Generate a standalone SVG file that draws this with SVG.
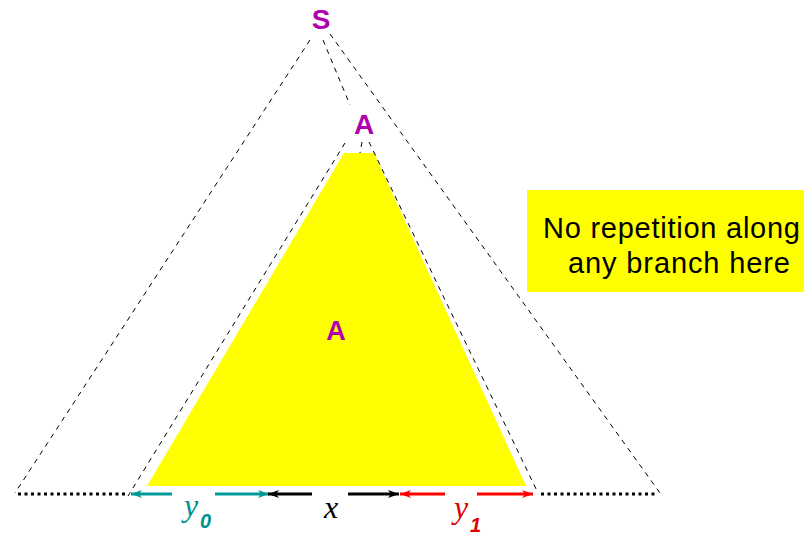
<svg xmlns="http://www.w3.org/2000/svg" width="804" height="535" viewBox="0 0 804 535">
<style>
.dash{stroke:#000;stroke-width:1;stroke-dasharray:5,5;fill:none}
.dot{stroke:#000;stroke-width:3;stroke-dasharray:3,3.5;fill:none}
.lbl{font-family:"Liberation Sans",Arial,sans-serif;font-weight:bold;fill:#b000b0;text-anchor:middle}
.note{font-family:"Liberation Sans",Arial,sans-serif;font-size:29px;fill:#000}
.var{font-family:"Liberation Serif","Times New Roman",serif;font-style:italic;font-size:32px}
.sub{font-family:"Liberation Sans",Arial,sans-serif;font-style:italic;font-weight:bold;font-size:20px}
.arr{stroke-width:3;fill:none}
</style>
<defs>
<marker id="mt" markerUnits="userSpaceOnUse" markerWidth="12" markerHeight="8" refX="11" refY="4" orient="auto"><path d="M0,0 L11,4 L0,8 L3,4 z" fill="#009999"/></marker>
<marker id="mk" markerUnits="userSpaceOnUse" markerWidth="12" markerHeight="8" refX="11" refY="4" orient="auto"><path d="M0,0 L11,4 L0,8 L3,4 z" fill="#000"/></marker>
<marker id="mr" markerUnits="userSpaceOnUse" markerWidth="12" markerHeight="8" refX="11" refY="4" orient="auto"><path d="M0,0 L11,4 L0,8 L3,4 z" fill="#ff0000"/></marker>
</defs>
<g id="yellow-tree"><polygon points="344,153 374,153 526,486 147,486" fill="#ffff00"/></g>
<g id="note">
<rect x="527" y="190" width="277" height="102" fill="#ffff00"/>
<text class="note" x="543" y="238" textLength="257" lengthAdjust="spacing">No repetition along</text>
<text class="note" x="568" y="273" textLength="222" lengthAdjust="spacing">any branch here</text>
</g>
<g id="connectors">
<line class="dash" x1="310" y1="40" x2="15" y2="493"/>
<line class="dash" x1="330" y1="34" x2="660" y2="493"/>
<line class="dash" x1="323" y1="40" x2="350" y2="105"/>
<line class="dash" x1="345" y1="143" x2="128" y2="496"/>
<line class="dash" x1="369" y1="142" x2="538" y2="493"/>
<line class="dash" x1="362" y1="142" x2="360" y2="153"/>
<line class="dot" x1="18" y1="494" x2="128" y2="494"/>
<line class="dot" x1="541" y1="494" x2="656" y2="494"/>
<line class="arr" stroke="#009999" x1="172" y1="494" x2="131" y2="494" marker-end="url(#mt)"/>
<line class="arr" stroke="#009999" x1="215" y1="494" x2="269" y2="494" marker-end="url(#mt)"/>
<line class="arr" stroke="#000" x1="312" y1="494" x2="268" y2="494" marker-end="url(#mk)"/>
<line class="arr" stroke="#000" x1="348" y1="494" x2="399" y2="494" marker-end="url(#mk)"/>
<line class="arr" stroke="#ff0000" x1="445" y1="494" x2="400" y2="494" marker-end="url(#mr)"/>
<line class="arr" stroke="#ff0000" x1="477" y1="494" x2="533" y2="494" marker-end="url(#mr)"/>
</g>
<g id="S"><text class="lbl" x="321" y="29" font-size="28">S</text></g>
<g id="A-top"><text class="lbl" x="364" y="134" font-size="28">A</text></g>
<g id="A-inner"><text class="lbl" x="336" y="340" font-size="27">A</text></g>
<g id="y0"><text class="var" x="184" y="516" fill="#009090">y</text><text class="sub" x="200" y="528" fill="#009090">0</text></g>
<g id="x"><text class="var" x="324" y="518" fill="#000">x</text></g>
<g id="y1"><text class="var" x="454" y="518" fill="#dd0000">y</text><text class="sub" x="470" y="532" fill="#dd0000">1</text></g>
</svg>
